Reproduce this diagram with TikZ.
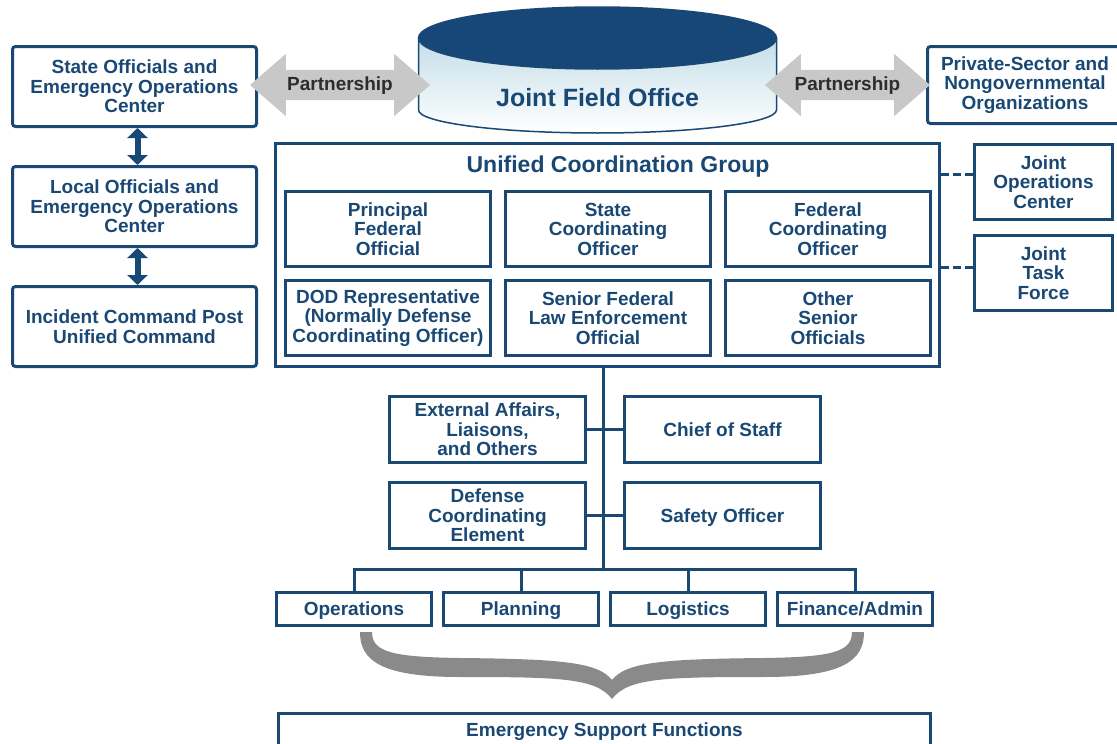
\documentclass[tikz,border=0pt]{standalone}
\usepackage{fontspec}
\setmainfont{Liberation Sans}
\usetikzlibrary{
    arrows.meta,
    calc,
    positioning,
    shapes.arrows
}
\definecolor{navy}{RGB}{26,72,116}
\definecolor{jfotop}{RGB}{22,71,118}
\definecolor{jfobody}{RGB}{196,222,232}
\definecolor{partnergray}{RGB}{200,200,200}
\definecolor{partnertext}{RGB}{45,45,45}
\definecolor{bracegray}{RGB}{138,138,138}
\tikzset{
    every picture/.style = {
        > = Stealth,
        x = 1pt,
        y = -1pt
    },
    box/.style = {
        draw = navy,
        line width = 3pt,
        text = navy,
        inner sep = 0pt,
        align = center
    },
    oneline/.style = {text height = 13.6pt, text depth = 0pt},
    sidebox/.style = {
        box,
        rounded corners = 3pt,
        minimum width = 244pt,
        minimum height = 80pt
    },
    ucgbox/.style = {box, minimum width = 205pt, minimum height = 75pt},
    jointbox/.style = {box, minimum width = 138pt, minimum height = 75pt},
    staffbox/.style = {box, minimum width = 196pt, minimum height = 66pt},
    sectionbox/.style = {box, oneline, minimum width = 155pt, minimum height = 33pt},
    link/.style = {draw = navy, line width = 3pt, line cap = rect},
    dashlink/.style = {draw = navy, line width = 3pt, dash pattern = on 8pt off 4pt},
    updown/.style = {
        draw = navy,
        line width = 6pt,
        > = {Triangle[width = 20pt, length = 10pt]},
        <->
    },
    partner/.style = {
        double arrow,
        fill = partnergray,
        text = partnertext,
        double arrow head extend = 16pt,
        double arrow tip angle = 82,
        inner xsep = 0pt,
        inner ysep = 6pt,
        text height = 14pt,
        text depth = 4pt
    }
}

\begin{document}
\begin{tikzpicture}[node font = {\bfseries\fontsize{19}{19.5}\selectfont}]
    \useasboundingbox (0,0) rectangle (1117,744);

    % joint field office
    \shade[top color = jfobody, bottom color = white] (418.5,38) -- (418.5,110) arc[start angle = 180, end angle = 360, x radius = 179pt, y radius = 23pt] -- (776.5,38) -- cycle;
    \draw[navy, line width = 1.5pt] (418.5,38) -- (418.5,110) arc[start angle = 180, end angle = 360, x radius = 179pt, y radius = 23pt] -- (776.5,38);
    \filldraw[fill = jfotop, draw = navy, line width = 1.5pt] (597.5,38) ellipse [x radius = 179pt, y radius = 31pt];
    \node[text = navy, font = \bfseries\fontsize{25}{25}\selectfont] (jfo) at (597.5,98) {Joint Field Office};

    \node[sidebox] (state) at (134.5,86.5) {State Officials and\\Emergency Operations\\Center};
    \node[sidebox, below = 37pt of state] (local) {Local Officials and\\Emergency Operations\\Center};
    \node[sidebox, below = 37pt of local] (icp) {Incident Command Post\\Unified Command};
    \draw[updown] ([xshift = 3pt]state.south) -- ([xshift = 3pt]local.north);
    \draw[updown] ([xshift = 3pt]local.south) -- ([xshift = 3pt]icp.north);

    \node[sidebox, minimum width = 195pt, minimum height = 77pt] (pso) at (1025,85) {Private-Sector and\\Nongovernmental\\Organizations};
    \node[partner, minimum height = 180pt] (pleft) at (340,85) {Partnership};
    \node[partner, minimum height = 165pt] (pright) at (847.5,85) {Partnership};

    % unified coordination group
    \node[box, minimum width = 664pt, minimum height = 223pt] (ucg) at (607.5,255) {};
    \node[text = navy, font = \bfseries\fontsize{23}{23}\selectfont] (ucgtitle) at (618,167) {Unified Coordination Group};
    \node[ucgbox] (pfo) at (388,229) {Principal\\Federal\\Official};
    \node[ucgbox, right = 12pt of pfo] (sco) {State\\Coordinating\\Officer};
    \node[ucgbox, right = 12pt of sco] (fco) {Federal\\Coordinating\\Officer};
    \node[ucgbox, below = 11pt of pfo] (dod) {DOD Representative\\(Normally Defense\\Coordinating Officer)};
    \node[ucgbox, below = 11pt of sco] (sfleo) {Senior Federal\\Law Enforcement\\Official};
    \node[ucgbox, below = 11pt of fco] (oso) {Other\\Senior\\Officials};

    \node[jointbox] (joc) at (1043.5,182) {Joint\\Operations\\Center};
    \node[jointbox, below = 13pt of joc] (jtf) {Joint\\Task\\Force};
    \draw[dashlink] ($(ucg.east |- joc.west) + (0,-8)$) -- ($(joc.west) + (0,-8)$);
    \draw[dashlink] ($(ucg.east |- jtf.west) + (0,-6)$) -- ($(jtf.west) + (0,-6)$);

    % staff
    \coordinate (bus) at (603.5,569);
    \node[staffbox] (ext) at (487.5,429.5) {External Affairs,\\Liaisons,\\and Others};
    \node[staffbox, oneline, right = 36pt of ext] (cos) {Chief of Staff};
    \node[staffbox, below = 17pt of ext] (dce) {Defense\\Coordinating\\Element};
    \node[staffbox, oneline, right = 36pt of dce] (safety) {Safety Officer};
    \draw[link] (ucg.south -| bus) -- (bus);
    \draw[link] (ext) -- (cos);
    \draw[link] (dce) -- (safety);

    % sections
    \node[sectionbox] (ops) at (354,609) {Operations};
    \node[sectionbox, right = 9pt of ops] (plan) {Planning};
    \node[sectionbox, right = 9pt of plan] (logi) {Logistics};
    \node[sectionbox, right = 9pt of logi] (fin) {Finance/Admin};
    \draw[link] (ops.north |- bus) -- (fin.north |- bus);
    \foreach \sect in {ops, plan, logi, fin}
        \draw[link] (\sect.north |- bus) -- (\sect.north);

    \fill[bracegray] (360,632) -- (372,632)
        .. controls (372,652) and (392,657) .. (460,658)
        .. controls (560,659) and (598,662) .. (612,680)
        .. controls (626,662) and (664,659) .. (764,658)
        .. controls (832,657) and (852,652) .. (852,632)
        -- (864,632)
        .. controls (864,660) and (844,677) .. (764,677)
        .. controls (664,677) and (628,678) .. (612,699)
        .. controls (596,678) and (560,677) .. (460,677)
        .. controls (380,677) and (360,660) .. (360,632) -- cycle;

    \node[box, oneline, minimum width = 652pt, minimum height = 34pt] (esf) at (604.5,730) {Emergency Support Functions};
\end{tikzpicture}
\end{document}
